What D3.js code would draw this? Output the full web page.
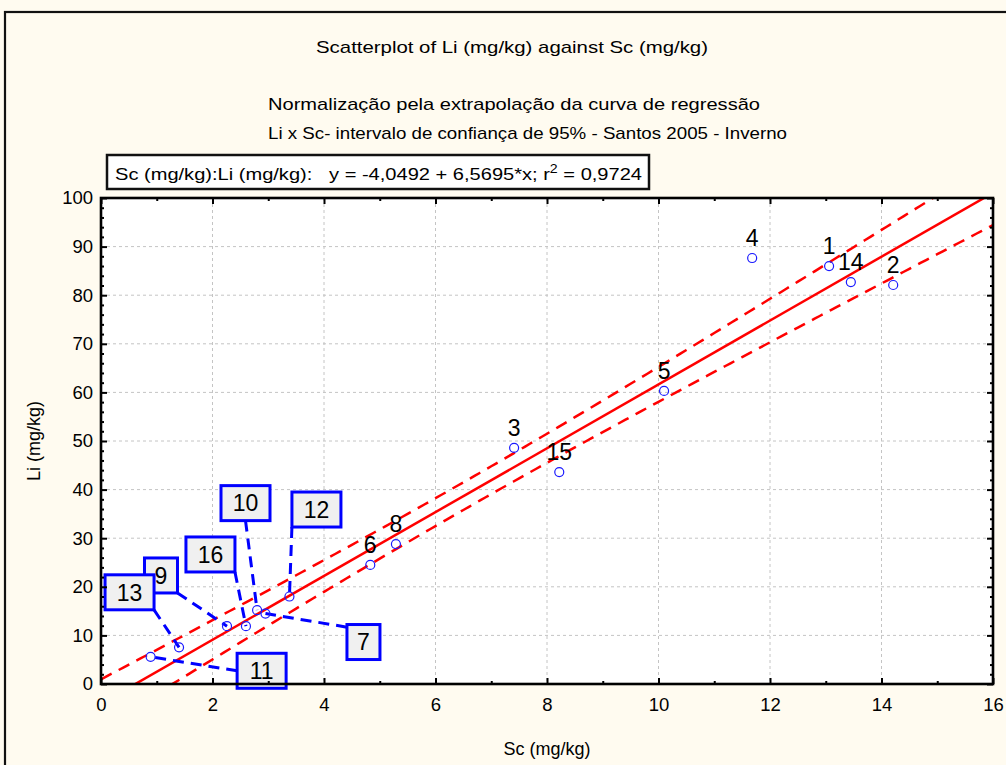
<!DOCTYPE html>
<html>
<head>
<meta charset="utf-8">
<script src="https://cdn.jsdelivr.net/npm/d3@7"></script>
<style>
  html, body { margin: 0; padding: 0; background: #fffbf0; }
  svg { display: block; font-family: "Liberation Sans", Arial, sans-serif; }
  text { white-space: pre; }
</style>
</head>
<body>
<svg id="chart" width="1006" height="765"></svg>
<script>
// Sample numbers and their Sc / Li concentrations (mg/kg)
const pointIds = [1, 2, 3, 4, 5, 6, 7, 8, 9, 10, 11, 12, 13, 14, 15, 16];
const scValues = [13.06, 14.21, 7.41, 11.68, 10.10, 4.83, 2.95, 5.29, 2.26, 2.80, 0.89, 3.38, 1.40, 13.45, 8.22, 2.60];
const liValues = [86.0, 82.1, 48.6, 87.65, 60.3, 24.5, 14.5, 28.8, 11.9, 15.2, 5.6, 18.0, 7.55, 82.7, 43.6, 11.9];

// Axis ticks
const xTicks = [0, 2, 4, 6, 8, 10, 12, 14, 16];
const yTicks = [0, 10, 20, 30, 40, 50, 60, 70, 80, 90, 100];

// Fitted regression  y = a + b*x
const intercept = -4.0492;
const slope = 6.5695;
const rSquared = 0.9724;
const tCrit95 = 2.1448; // Student t, 0.975 quantile, n-2 = 14 df

const titleMain = "Scatterplot of Li (mg/kg) against Sc (mg/kg)";
const subtitleLines = [
  "Normalização pela extrapolação da curva de regressão",
  "Li x Sc- intervalo de confiança de 95% - Santos 2005 - Inverno"
];
const xTitle = "Sc (mg/kg)";
const yTitle = "Li (mg/kg)";

// Samples whose labels sit in callout boxes (offset of box centre from the point, leader attach side)
const callouts = {
  10: { dx: -11.6, dy: -107, ax: 0, ay: 1 },
  12: { dx: 27, dy: -87, ax: -1, ay: 1 },
  16: { dx: -35.5, dy: -71.7, ax: 1, ay: 1 },
  9:  { dx: -66, dy: -50.7, ax: 1, ay: 1 },
  13: { dx: -49.5, dy: -55, ax: 1, ay: 1 },
  7:  { dx: 98, dy: 28.5, ax: -1, ay: -0.85 },
  11: { dx: 111, dy: 14, ax: -1, ay: 0 }
};
const calloutOrder = [10, 12, 16, 9, 13, 7, 11];

const points = pointIds.map((id, i) => ({ id, x: scValues[i], y: liValues[i] }));

const svg = d3.select("#chart");
const plot = { left: 101, right: 993, top: 198, bottom: 684 };

const x = d3.scaleLinear().domain([0, 16]).range([plot.left, plot.right]);
const y = d3.scaleLinear().domain([0, 100]).range([plot.bottom, plot.top]);

// outer frame
svg.append("rect")
  .attr("x", 5).attr("y", 12).attr("width", 1040).attr("height", 800)
  .attr("fill", "#fffbf0").attr("stroke", "#111").attr("stroke-width", 2.2);

// titles
svg.append("text").attr("x", 316).attr("y", 53)
  .attr("font-size", 17).attr("textLength", 392).attr("lengthAdjust", "spacingAndGlyphs")
  .text(titleMain);
svg.append("text").attr("x", 268).attr("y", 110)
  .attr("font-size", 17).attr("textLength", 492).attr("lengthAdjust", "spacingAndGlyphs")
  .text(subtitleLines[0]);
svg.append("text").attr("x", 268).attr("y", 139)
  .attr("font-size", 17).attr("textLength", 519).attr("lengthAdjust", "spacingAndGlyphs")
  .text(subtitleLines[1]);

// equation box
svg.append("rect").attr("x", 107).attr("y", 155).attr("width", 542).attr("height", 34)
  .attr("fill", "#fff").attr("stroke", "#111").attr("stroke-width", 2.5);
const fmt = v => v.toFixed(4).replace(".", ",");
const eq = svg.append("text").attr("x", 115).attr("y", 180).attr("font-size", 17)
  .attr("textLength", 527).attr("lengthAdjust", "spacingAndGlyphs");
eq.append("tspan").text(`Sc (mg/kg):Li (mg/kg):   y = ${fmt(intercept)} + ${fmt(slope)}*x; r`);
eq.append("tspan").attr("dy", -7).attr("font-size", 12).text("2");
eq.append("tspan").attr("dy", 7).text(` = ${fmt(rSquared)}`);

// plot background
svg.append("rect").attr("x", plot.left).attr("y", plot.top)
  .attr("width", plot.right - plot.left).attr("height", plot.bottom - plot.top)
  .attr("fill", "#fff");

// grid
const grid = svg.append("g").attr("stroke", "#c4c4c4").attr("stroke-width", 1).attr("stroke-dasharray", "3,3");
grid.selectAll(".gx").data(xTicks.slice(1, -1)).join("line")
  .attr("x1", d => x(d)).attr("x2", d => x(d)).attr("y1", plot.top).attr("y2", plot.bottom);
grid.selectAll(".gy").data(yTicks.slice(1, -1)).join("line")
  .attr("y1", d => y(d)).attr("y2", d => y(d)).attr("x1", plot.left).attr("x2", plot.right);

// clip for fitted lines
svg.append("clipPath").attr("id", "plotClip").append("rect")
  .attr("x", plot.left).attr("y", plot.top)
  .attr("width", plot.right - plot.left).attr("height", plot.bottom - plot.top);

// 95% confidence band of the mean from the samples around the fitted line
const n = points.length;
const xMean = d3.mean(points, d => d.x);
const sxx = d3.sum(points, d => (d.x - xMean) ** 2);
const sse = d3.sum(points, d => (d.y - (intercept + slope * d.x)) ** 2);
const sErr = Math.sqrt(sse / (n - 2));
const halfWidth = xv => tCrit95 * sErr * Math.sqrt(1 / n + (xv - xMean) ** 2 / sxx);
const xs = d3.range(0, 16.001, 0.1);

const fitG = svg.append("g").attr("clip-path", "url(#plotClip)").attr("fill", "none").attr("stroke", "#ff0000");
const lineGen = d3.line().x(d => x(d[0])).y(d => y(d[1]));
fitG.append("path").attr("stroke-width", 2.5).attr("stroke-dasharray", "12,8")
  .attr("d", lineGen(xs.map(v => [v, intercept + slope * v + halfWidth(v)])));
fitG.append("path").attr("stroke-width", 2.5).attr("stroke-dasharray", "12,8")
  .attr("d", lineGen(xs.map(v => [v, intercept + slope * v - halfWidth(v)])));
fitG.append("path").attr("stroke-width", 2.5)
  .attr("d", lineGen([0, 16].map(v => [v, intercept + slope * v])));

// callout leaders
const boxW = id => String(id).length > 1 ? 49 : 33;
const boxH = 35;
const leaderG = svg.append("g").attr("stroke", "#0000ff").attr("stroke-width", 3)
  .attr("stroke-dasharray", "11,7").attr("fill", "none");
calloutOrder.forEach(id => {
  const p = points.find(d => d.id === id);
  const c = callouts[id];
  const px = x(p.x), py = y(p.y);
  const bx = px + c.dx, by = py + c.dy;
  leaderG.append("line")
    .attr("x1", bx + c.ax * boxW(id) / 2).attr("y1", by + c.ay * boxH / 2)
    .attr("x2", px).attr("y2", py);
});

// sample markers
svg.append("g").selectAll("circle").data(points).join("circle")
  .attr("cx", d => x(d.x)).attr("cy", d => y(d.y)).attr("r", 4.5)
  .attr("fill", "none").attr("stroke", "#1a1aff").attr("stroke-width", 1.2);

// plain labels
svg.append("g").selectAll("text").data(points.filter(d => !callouts[d.id])).join("text")
  .attr("x", d => x(d.x)).attr("y", d => y(d.y) - 12)
  .attr("text-anchor", "middle").attr("font-size", 23).attr("fill", "#000")
  .text(d => d.id);

// callout boxes
calloutOrder.forEach(id => {
  const p = points.find(d => d.id === id);
  const c = callouts[id];
  const bx = x(p.x) + c.dx, by = y(p.y) + c.dy;
  const w = boxW(id);
  svg.append("rect").attr("x", bx - w / 2).attr("y", by - boxH / 2)
    .attr("width", w).attr("height", boxH)
    .attr("fill", "#f0f0f0").attr("stroke", "#0000ff").attr("stroke-width", 3);
  svg.append("text").attr("x", bx).attr("y", by + 8.2)
    .attr("text-anchor", "middle").attr("font-size", 23).attr("fill", "#000").text(id);
});

// axes: ticks drawn inside the frame
function styleAxis(g) {
  g.select(".domain").remove();
  g.selectAll(".tick line").attr("stroke", "#000").attr("stroke-width", 2);
  g.selectAll(".tick text").attr("font-size", 18.5).attr("fill", "#000")
    .attr("font-family", "'Liberation Sans', Arial, sans-serif");
}
const minorX = d3.range(1, 16, 2);
const minorY = d3.range(0, 101, 2).filter(v => v % 10 !== 0);

svg.append("g").attr("transform", `translate(0,${plot.bottom})`)
  .call(d3.axisBottom(x).tickValues(xTicks).tickSize(-6).tickPadding(14)).call(styleAxis);
svg.append("g").attr("transform", `translate(0,${plot.bottom})`)
  .call(d3.axisBottom(x).tickValues(minorX).tickSize(-3).tickFormat("")).call(styleAxis);
svg.append("g").attr("transform", `translate(0,${plot.top})`)
  .call(d3.axisTop(x).tickValues(xTicks).tickSize(-6).tickFormat("")).call(styleAxis);
svg.append("g").attr("transform", `translate(0,${plot.top})`)
  .call(d3.axisTop(x).tickValues(minorX).tickSize(-3).tickFormat("")).call(styleAxis);
svg.append("g").attr("transform", `translate(${plot.left},0)`)
  .call(d3.axisLeft(y).tickValues(yTicks).tickSize(-6).tickPadding(8)).call(styleAxis);
svg.append("g").attr("transform", `translate(${plot.left},0)`)
  .call(d3.axisLeft(y).tickValues(minorY).tickSize(-3).tickFormat("")).call(styleAxis);
svg.append("g").attr("transform", `translate(${plot.right},0)`)
  .call(d3.axisRight(y).tickValues(yTicks).tickSize(-6).tickFormat("")).call(styleAxis);
svg.append("g").attr("transform", `translate(${plot.right},0)`)
  .call(d3.axisRight(y).tickValues(minorY).tickSize(-3).tickFormat("")).call(styleAxis);

// plot frame
svg.append("rect").attr("x", plot.left).attr("y", plot.top)
  .attr("width", plot.right - plot.left).attr("height", plot.bottom - plot.top)
  .attr("fill", "none").attr("stroke", "#000").attr("stroke-width", 2.6);

// axis titles
svg.append("text").attr("x", (plot.left + plot.right) / 2).attr("y", 755)
  .attr("text-anchor", "middle").attr("font-size", 18).text(xTitle);
svg.append("text").attr("transform", `translate(40,${(plot.top + plot.bottom) / 2}) rotate(-90)`)
  .attr("text-anchor", "middle").attr("font-size", 18).text(yTitle);
</script>
</body>
</html>
